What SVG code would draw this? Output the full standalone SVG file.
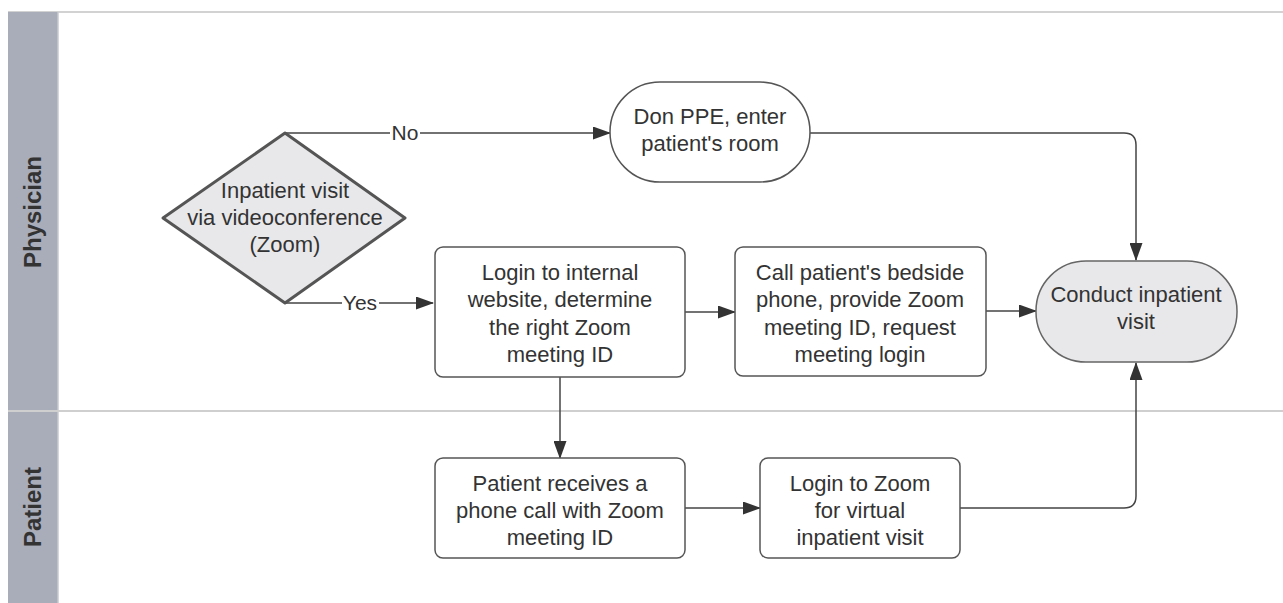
<svg xmlns="http://www.w3.org/2000/svg" width="1283" height="603" viewBox="0 0 1283 603">
<style>
.t{font-family:"Liberation Sans",Arial,sans-serif;font-size:22px;fill:#333;text-anchor:middle}
.lbl{font-family:"Liberation Sans",Arial,sans-serif;font-size:21px;fill:#333;text-anchor:middle}
.lane{font-family:"Liberation Sans",Arial,sans-serif;font-size:24px;font-weight:bold;fill:#333;text-anchor:middle}
.box{fill:#fff;stroke:#555;stroke-width:1.5}
.gray{fill:#e8e8ea;stroke:#666;stroke-width:1.5}
.c{fill:none;stroke:#444;stroke-width:1.5}
</style>
<defs>
<marker id="ah" markerWidth="18" markerHeight="13" refX="17" refY="6.5" orient="auto" markerUnits="userSpaceOnUse">
<path d="M0,0 L18,6.5 L0,13 Z" fill="#333"/>
</marker>
</defs>
<rect width="1283" height="603" fill="#fff"/>
<g id="lanes">
<line x1="8" y1="12" x2="1283" y2="12" stroke="#d2d2d2" stroke-width="2"/>
<rect x="8" y="12" width="50" height="591" fill="#a9adb9"/>
<line x1="58" y1="12" x2="58" y2="603" stroke="#c8cad0" stroke-width="1.5"/>
<line x1="8" y1="411" x2="1283" y2="411" stroke="#cfcfcf" stroke-width="2"/>
<text class="lane" transform="translate(41,212) rotate(-90)">Physician</text>
<text class="lane" transform="translate(41,507) rotate(-90)">Patient</text>
</g>
<g id="connectors">
<path class="c" d="M285,133 H390 M420,133 H610" marker-end="url(#ah)"/>
<path class="c" d="M285,303 H342 M379,303 H433" marker-end="url(#ah)"/>
<path class="c" d="M810,133 H1124 Q1136,133 1136,145 V260" marker-end="url(#ah)"/>
<path class="c" d="M685,312 H735" marker-end="url(#ah)"/>
<path class="c" d="M986,311 H1036" marker-end="url(#ah)"/>
<path class="c" d="M560,377 V458" marker-end="url(#ah)"/>
<path class="c" d="M685,508 H760" marker-end="url(#ah)"/>
<path class="c" d="M960,508 H1124 Q1136,508 1136,496 V363" marker-end="url(#ah)"/>
<text class="lbl" x="405" y="140">No</text>
<text class="lbl" x="360" y="310">Yes</text>
</g>
<g id="decision">
<path d="M285,133 L405,218 L285,303 L163,218 Z" fill="#e8e8ea" stroke="#555" stroke-width="3" stroke-linejoin="round"/>
<text class="t" x="285" y="198">Inpatient visit</text>
<text class="t" x="285" y="225">via videoconference</text>
<text class="t" x="285" y="252">(Zoom)</text>
</g>
<g id="don-ppe">
<rect class="box" x="610" y="82" width="200" height="100" rx="50"/>
<text class="t" x="710" y="124">Don PPE, enter</text>
<text class="t" x="710" y="151">patient's room</text>
</g>
<g id="login-internal">
<rect class="box" x="435" y="247" width="250" height="130" rx="8"/>
<text class="t" x="560" y="280">Login to internal</text>
<text class="t" x="560" y="307">website, determine</text>
<text class="t" x="560" y="335">the right Zoom</text>
<text class="t" x="560" y="362">meeting ID</text>
</g>
<g id="call-patient">
<rect class="box" x="735" y="247" width="251" height="129" rx="8"/>
<text class="t" x="860" y="280">Call patient's bedside</text>
<text class="t" x="860" y="307">phone, provide Zoom</text>
<text class="t" x="860" y="335">meeting ID, request</text>
<text class="t" x="860" y="362">meeting login</text>
</g>
<g id="conduct">
<rect class="gray" x="1036" y="261" width="201" height="101" rx="50"/>
<text class="t" x="1136" y="302">Conduct inpatient</text>
<text class="t" x="1136" y="329">visit</text>
</g>
<g id="patient-receives">
<rect class="box" x="435" y="458" width="250" height="100" rx="8"/>
<text class="t" x="560" y="491">Patient receives a</text>
<text class="t" x="560" y="518">phone call with Zoom</text>
<text class="t" x="560" y="545">meeting ID</text>
</g>
<g id="login-zoom">
<rect class="box" x="760" y="458" width="200" height="100" rx="8"/>
<text class="t" x="860" y="491">Login to Zoom</text>
<text class="t" x="860" y="518">for virtual</text>
<text class="t" x="860" y="545">inpatient visit</text>
</g>
</svg>
